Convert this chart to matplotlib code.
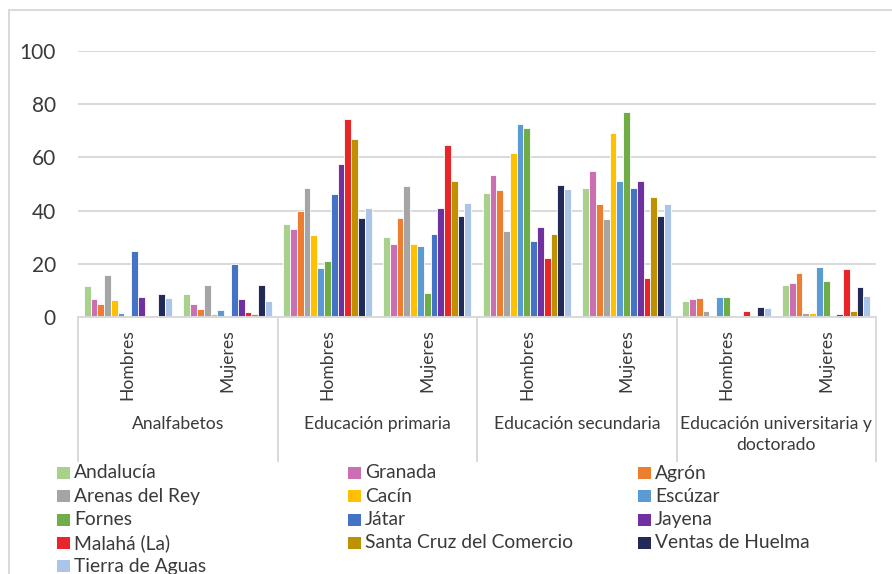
import matplotlib
matplotlib.use("Agg")
import matplotlib.pyplot as plt
import matplotlib.transforms as mtransforms
from matplotlib.patches import Rectangle
from matplotlib.lines import Line2D
import numpy as np

plt.rcParams['font.family'] = ['Lato', 'DejaVu Sans']

groups = ["Analfabetos", "Educación primaria", "Educación secundaria",
          "Educación universitaria y\ndoctorado"]
sexes = ["Hombres", "Mujeres"]
y_ticks = [0, 20, 40, 60, 80, 100]

series_names = ["Andalucía", "Granada", "Agrón", "Arenas del Rey", "Cacín", "Escúzar",
                "Fornes", "Játar", "Jayena", "Malahá (La)", "Santa Cruz del Comercio",
                "Ventas de Huelma", "Tierra de Aguas"]
colors = ["#A9D18E", "#C96FB2", "#ED7D31", "#A5A5A5", "#FFC000", "#5B9BD5",
          "#70AD47", "#4472C4", "#7030A0", "#E8262A", "#BF9000", "#222A5A", "#ABC5E8"]

# values per category: Analf H, Analf M, Prim H, Prim M, Sec H, Sec M, Univ H, Univ M
andalucia   = [11.6, 8.8, 34.8, 30.0, 46.8, 48.5, 6.0, 12.0]
granada     = [6.8, 4.8, 32.9, 27.4, 53.2, 54.7, 6.6, 12.6]
agron       = [4.8, 3.0, 39.7, 37.3, 47.9, 42.5, 7.1, 16.5]
arenas      = [15.9, 11.9, 48.5, 49.2, 32.5, 36.8, 2.3, 1.5]
cacin       = [6.4, 1.1, 31.0, 27.4, 61.7, 69.3, 0.0, 1.5]
escuzar     = [1.4, 2.6, 18.3, 26.8, 72.4, 51.0, 7.4, 18.8]
fornes      = [0.0, 0.0, 20.9, 8.9, 70.9, 77.2, 7.6, 13.4]
jatar       = [25.0, 19.9, 46.3, 31.3, 28.4, 48.4, 0.0, 0.0]
jayena      = [7.4, 6.6, 57.7, 40.8, 34.0, 51.3, 0.3, 1.0]
malaha      = [0.3, 2.0, 74.6, 64.7, 22.0, 14.8, 2.3, 18.0]
santa_cruz  = [0.2, 1.0, 67.0, 51.0, 31.3, 45.0, 0.0, 2.1]
ventas      = [8.5, 12.0, 37.3, 38.0, 49.8, 38.0, 3.7, 11.1]
tierra      = [7.0, 6.0, 40.9, 42.7, 48.0, 42.4, 3.4, 8.0]

series_values = [andalucia, granada, agron, arenas, cacin, escuzar, fornes, jatar,
                 jayena, malaha, santa_cruz, ventas, tierra]

W, H = 892, 574
fig = plt.figure(figsize=(W / 100, H / 100), dpi=100)
fig.patch.set_facecolor("white")

ax_l, ax_r, ax_t, ax_b = 78, 876, 51, 317
ax = fig.add_axes([ax_l / W, 1 - ax_b / H, (ax_r - ax_l) / W, (ax_b - ax_t) / H])

ncat = len(groups) * len(sexes)
x = np.arange(ncat)
nser = len(series_names)
group_w = 0.885
bw = group_w / nser
for i, (vals, c) in enumerate(zip(series_values, colors)):
    ax.bar(x - group_w / 2 + bw * (i + 0.5), vals, width=bw, color=c,
           edgecolor="white", linewidth=0.6, zorder=3)

ax.set_xlim(-0.5, ncat - 0.5)
ax.set_ylim(0, 100)
ax.set_yticks(y_ticks)
ax.set_yticklabels([str(v) for v in y_ticks], fontsize=15, color="#3A3A3A")
ax.tick_params(axis='y', length=0, pad=16)
ax.set_xticks([])
ax.grid(axis='y', color="#D9D9D9", linewidth=1.4, zorder=0)
for s in ["left", "right", "top"]:
    ax.spines[s].set_visible(False)
ax.spines["bottom"].set_color("#D9D9D9")
ax.spines["bottom"].set_linewidth(1.4)
ax.spines["bottom"].set_zorder(4)

trans = mtransforms.blended_transform_factory(ax.transData, ax.transAxes)
ax_h = ax_b - ax_t
def frac(py):
    return -(py - ax_b) / ax_h

# separators
for sx in np.arange(-0.5, ncat, 2):
    ax.add_line(Line2D([sx, sx], [0, frac(461)], transform=trans, color="#D9D9D9",
                       linewidth=1.4, clip_on=False))

# category labels
for k in range(ncat):
    ax.text(k, frac(329), sexes[k % 2], transform=trans, rotation=90,
            ha="center", va="top", fontsize=12.6, color="#3A3A3A")
for g, name in enumerate(groups):
    ax.text(2 * g + 0.5, frac(416), name, transform=trans, ha="center", va="top",
            fontsize=12.6, color="#3A3A3A", linespacing=1.35)

# legend (row-major, 3 columns)
col_x = [57, 348, 638]
for i, (name, c) in enumerate(zip(series_names, colors)):
    r, cc = divmod(i, 3)
    cy = 473 + r * 23.3
    fig.patches.append(Rectangle((col_x[cc] / W, 1 - (cy + 6) / H), 12.5 / W, 12 / H,
                                 transform=fig.transFigure, facecolor=c, edgecolor="none"))
    fig.text((col_x[cc] + 17) / W, 1 - cy / H, name, ha="left", va="center",
             fontsize=13.9, color="#3A3A3A")

# outer chart border
fig.add_artist(Line2D([9 / W, 1], [1 - 10 / H, 1 - 10 / H], transform=fig.transFigure,
                      color="#D9D9D9", linewidth=1.4))
fig.add_artist(Line2D([9 / W, 9 / W], [0, 1 - 10 / H], transform=fig.transFigure,
                      color="#D9D9D9", linewidth=1.4))

fig.savefig("out.png", dpi=100)
